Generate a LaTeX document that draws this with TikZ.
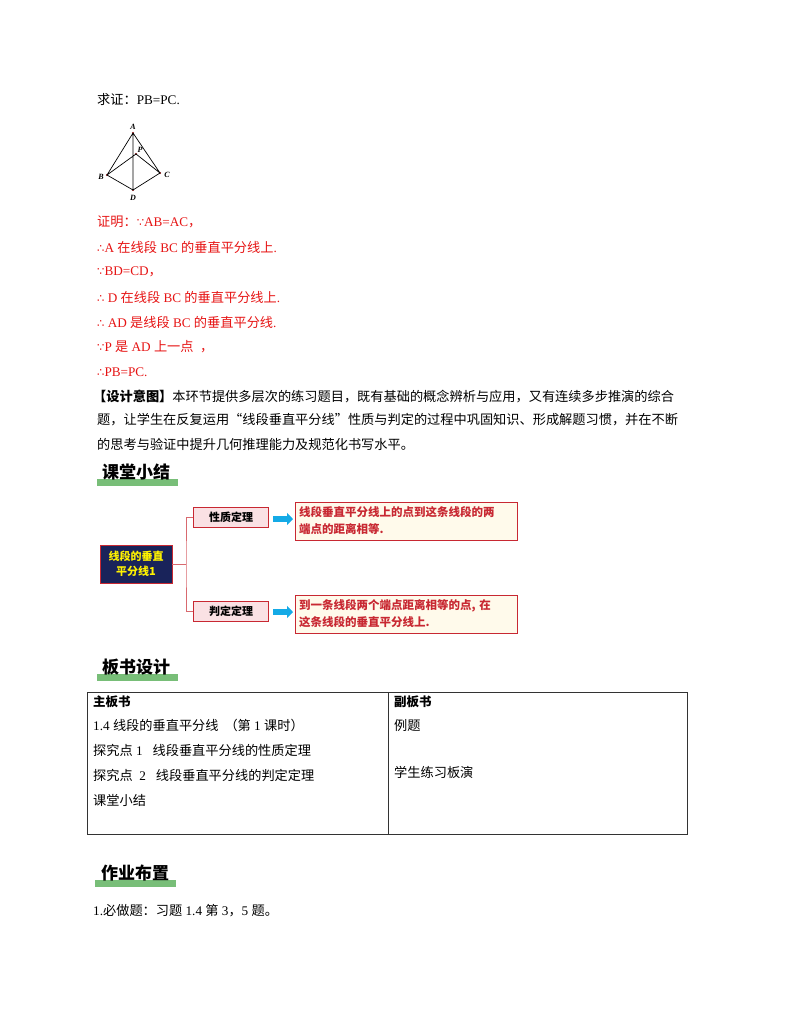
\documentclass[tikz,border=0pt]{standalone}
\usepackage{fontspec}
\setmainfont{Liberation Serif}
\newfontfamily\cjk{Noto Sans CJK SC}
\newfontfamily\sym{DejaVu Sans}
\usetikzlibrary{arrows.meta}
\definecolor{redt}{RGB}{230,20,20}
\definecolor{navy}{RGB}{25,35,90}
\definecolor{boxred}{RGB}{200,40,50}
\definecolor{pinkf}{RGB}{250,225,228}
\definecolor{creamf}{RGB}{255,250,235}
\definecolor{greenbar}{RGB}{120,190,120}
\definecolor{arrowblue}{RGB}{20,170,230}
\newcommand{\ths}{{\sym\fontsize{11.5}{13}\selectfont ∴}}
\newcommand{\bec}{{\sym\fontsize{11.5}{13}\selectfont ∵}}
\tikzset{
  txt/.style={anchor=west,inner sep=0pt,font=\fontsize{13.2}{15}\selectfont},
  rtxt/.style={txt,text=redt},
  hdr/.style={anchor=west,inner sep=0pt,font=\cjk\bfseries\fontsize{17}{19}\selectfont},
  lbl/.style={inner sep=0pt,font=\bfseries\itshape\fontsize{8}{9}\selectfont},
  midbox/.style={draw=boxred,fill=pinkf,minimum width=75pt,minimum height=20pt,font=\cjk\bfseries\fontsize{11}{12}\selectfont},
  ansbox/.style={draw=boxred,fill=creamf,minimum width=222pt,minimum height=38pt,text width=214pt,align=left,text=boxred,font=\cjk\bfseries\fontsize{11.5}{17}\selectfont},
  barr/.style={line width=6pt,arrowblue,-{Triangle[length=6pt,width=12pt]}},
  pt/.style={circle,fill=red!50!black,inner sep=0.8pt}
}
\begin{document}
\begin{tikzpicture}[x=1pt,y=-1pt]
\useasboundingbox (0,0) rectangle (800,1035);
\node[txt] (t0) at (97,100) {{\cjk 求证：}PB=PC.};
% triangle
\node[pt] (A) at (133,133) {};
\node[pt] (P) at (136,154) {};
\node[pt] (B) at (107,175) {};
\node[pt] (C) at (160,173) {};
\node[pt] (D) at (133,190) {};
\draw[line width=0.7pt] (A.center)--(B.center)--(D.center)--(C.center)--(A.center) (A.center)--(D.center) (B.center)--(P.center)--(C.center);
\node[lbl] (la) at (133,127) {A};
\node[lbl] (lp) at (140,150) {P};
\node[lbl] (lb) at (101,177) {B};
\node[lbl] (lc) at (167,175) {C};
\node[lbl] (ld) at (133,198) {D};
% proof
\node[rtxt] (p1) at (97,222) {{\cjk 证明：}\bec AB=AC{\cjk ，}};
\node[rtxt] (p2) at (97,247) {\ths A {\cjk 在线段} BC {\cjk 的垂直平分线上}.};
\node[rtxt] (p3) at (97,272) {\bec BD=CD{\cjk ，}};
\node[rtxt] (p4) at (97,297) {\ths{} D {\cjk 在线段} BC {\cjk 的垂直平分线上}.};
\node[rtxt] (p5) at (97,322) {\ths{} AD {\cjk 是线段} BC {\cjk 的垂直平分线}.};
\node[rtxt] (p6) at (97,347) {\bec P {\cjk 是} AD {\cjk 上一点} \ {\cjk ，}};
\node[rtxt] (p7) at (97,372) {\ths PB=PC.};
\node[txt] (d1) at (93,396) {\cjk \textbf{【设计意图】}本环节提供多层次的练习题目，既有基础的概念辨析与应用，又有连续多步推演的综合};
\node[txt] (d2) at (97,420) {\cjk 题，让学生在反复运用“线段垂直平分线”性质与判定的过程中巩固知识、形成解题习惯，并在不断};
\node[txt] (d3) at (97,444) {\cjk 的思考与验证中提升几何推理能力及规范化书写水平。};
% header 1
\fill[greenbar] (97,479) rectangle (178,486);
\node[hdr] (h1) at (102,472) {课堂小结};
% mind map
\node[draw=boxred,fill=navy,minimum width=72pt,minimum height=38pt,text=yellow,align=center,font=\cjk\bfseries\fontsize{11}{15}\selectfont] (c) at (136,564) {线段的垂直\\平分线1};
\node[midbox] (m1) at (231,517) {性质定理};
\node[midbox] (m2) at (231,611) {判定定理};
\node[ansbox] (r1) at (406,521) {线段垂直平分线上的点到这条线段的两\\端点的距离相等.};
\node[ansbox] (r2) at (406,614) {到一条线段两个端点距离相等的点, 在\\这条线段的垂直平分线上.};
\coordinate (a1s) at (273,519); \coordinate (a1e) at (293,519);
\coordinate (a2s) at (273,612); \coordinate (a2e) at (293,612);
\draw[barr] (a1s) -- (a1e);
\draw[barr] (a2s) -- (a2e);
\coordinate (j) at (186,564);
\draw[boxred!70] (c.east) -- (j) (m1.west) -| (j) |- (m2.west);
% header 2
\fill[greenbar] (97,674) rectangle (178,681);
\node[hdr] (h2) at (102,667) {板书设计};
% table
\draw[line width=0.8pt,black!80] (87,692) rectangle (687,834);
\draw[line width=0.8pt,black!80] (388,692) -- (388,834);
\node[txt,font=\cjk\bfseries\fontsize{12.5}{14}\selectfont] (tb1) at (93,702) {主板书};
\node[txt] (tb2) at (93,725) {1.4 {\cjk 线段的垂直平分线 \ （第} 1 {\cjk 课时）}};
\node[txt] (tb3) at (93,750) {{\cjk 探究点} 1 \ \ {\cjk 线段垂直平分线的性质定理}};
\node[txt] (tb4) at (93,775) {{\cjk 探究点} \ 2 \ \ {\cjk 线段垂直平分线的判定定理}};
\node[txt] (tb5) at (93,800) {\cjk 课堂小结};
\node[txt,font=\cjk\bfseries\fontsize{12.5}{14}\selectfont] (tc1) at (394,702) {副板书};
\node[txt] (tc2) at (394,725) {\cjk 例题};
\node[txt] (tc3) at (394,772) {\cjk 学生练习板演};
% header 3
\fill[greenbar] (95,880) rectangle (176,887);
\node[hdr] (h3) at (101,873) {作业布置};
\node[txt] (hw) at (93,911) {1.{\cjk 必做题：习题} 1.4 {\cjk 第} 3{\cjk ，}5 {\cjk 题。}};
\end{tikzpicture}
\end{document}
